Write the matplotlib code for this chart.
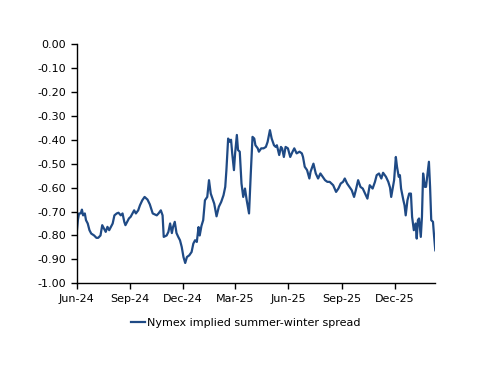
import pandas as pd
import numpy as np
import matplotlib
matplotlib.use("Agg")
import matplotlib.pyplot as plt
import matplotlib.dates as mdates

# days since 2024-06-01 and the spread ($/MMBtu)
days = [0, 2, 4, 7, 9, 11, 14, 16, 19, 22, 25, 30, 34, 37, 41, 44, 47, 50, 53, 56,
        59, 62, 65, 69, 72, 76, 79, 82, 84, 87, 90, 93, 96, 99, 102, 106, 109, 113, 117, 122,
        126, 131, 138, 141, 145, 148, 150, 155, 158, 161, 164, 166, 169, 172, 175, 178, 181, 184, 187, 190,
        194, 198, 201, 204, 207, 210, 212, 215, 218, 221, 225, 228, 231, 234, 237, 241, 245, 249, 253, 256,
        258, 261, 264, 266, 268, 271, 273, 276, 278, 281, 284, 287, 290, 293, 297, 300, 303, 306, 308, 312,
        314, 318, 322, 326, 329, 333, 336, 340, 343, 345, 349, 352, 354, 357, 360, 364, 368, 372, 375, 379,
        384, 388, 390, 393, 397, 401, 403, 408, 412, 416, 420, 424, 428, 432, 436, 442, 447, 451, 455, 459,
        462, 466, 470, 474, 478, 481, 485, 489, 493, 497, 501, 505, 510, 514, 517, 521, 525, 528, 533, 537,
        540, 542, 545, 547, 550, 552, 555, 557, 559, 563, 565, 567, 570, 573, 576, 578, 581, 584, 586, 588,
        590, 593, 595, 597, 600, 602, 604, 607, 609, 611, 614, 616, 618]
spread = [-0.79, -0.736, -0.708, -0.708, -0.692, -0.716, -0.708, -0.736, -0.75, -0.778,
          -0.792, -0.80, -0.81, -0.81, -0.80, -0.757, -0.771, -0.785, -0.764, -0.778,
          -0.764, -0.75, -0.716, -0.708, -0.705, -0.716, -0.708, -0.743, -0.757, -0.743,
          -0.729, -0.722, -0.708, -0.695, -0.708, -0.695, -0.674, -0.653, -0.639, -0.65,
          -0.67, -0.708, -0.716, -0.708, -0.695, -0.716, -0.806, -0.80, -0.785, -0.75,
          -0.79, -0.765, -0.743, -0.79, -0.806, -0.82, -0.848, -0.89, -0.915, -0.89,
          -0.883, -0.869, -0.834, -0.82, -0.827, -0.765, -0.80, -0.76, -0.736, -0.653,
          -0.639, -0.569, -0.625, -0.646, -0.667, -0.72, -0.68, -0.66, -0.632, -0.597,
          -0.527, -0.395, -0.409, -0.40, -0.457, -0.527, -0.457, -0.38, -0.443, -0.45,
          -0.583, -0.639, -0.604, -0.653, -0.708, -0.541, -0.388, -0.395, -0.423, -0.436,
          -0.45, -0.436, -0.436, -0.43, -0.409, -0.36, -0.395, -0.423, -0.43, -0.423,
          -0.464, -0.43, -0.436, -0.472, -0.43, -0.436, -0.472, -0.45, -0.436, -0.457,
          -0.45, -0.457, -0.472, -0.513, -0.527, -0.562, -0.534, -0.50, -0.541, -0.562,
          -0.541, -0.555, -0.569, -0.576, -0.576, -0.59, -0.618, -0.604, -0.583, -0.576,
          -0.562, -0.583, -0.597, -0.611, -0.639, -0.611, -0.569, -0.597, -0.604, -0.625,
          -0.646, -0.59, -0.604, -0.576, -0.548, -0.541, -0.562, -0.538, -0.555, -0.576,
          -0.60, -0.639, -0.597, -0.569, -0.472, -0.513, -0.555, -0.548, -0.604, -0.653,
          -0.674, -0.716, -0.653, -0.625, -0.625, -0.722, -0.778, -0.75, -0.813, -0.736,
          -0.729, -0.806, -0.722, -0.541, -0.597, -0.597, -0.555, -0.492, -0.597, -0.736,
          -0.743, -0.806, -0.862]

start = pd.Timestamp("2024-06-01")
dates = start + pd.to_timedelta(days, unit="D")

plt.rcParams["font.family"] = "DejaVu Sans"
plt.rcParams["font.size"] = 8

fig = plt.figure(figsize=(5, 3.86), dpi=100)
ax = fig.add_axes([0.1534, 0.266, 0.7172, 0.620])

ax.plot(dates, spread, color="#1f4a85", linewidth=1.6,
        label="Nymex implied summer-winter spread")

ax.set_ylim(-1.0, 0.0)
ax.set_yticks(np.round(np.arange(-1.0, 0.01, 0.1), 2))
ax.yaxis.set_major_formatter(plt.FuncFormatter(lambda v, p: f"{v:.2f}" if abs(v) > 1e-9 else "0.00"))
ax.set_xlim(start, start + pd.Timedelta(days=618))
ax.xaxis.set_major_locator(mdates.MonthLocator(bymonth=[3, 6, 9, 12]))
ax.xaxis.set_major_formatter(mdates.DateFormatter("%b-%y"))

for s in ["top", "right"]:
    ax.spines[s].set_visible(False)
ax.spines["left"].set_linewidth(1.0)
ax.spines["bottom"].set_linewidth(1.0)
ax.tick_params(direction="out", length=4, width=1, colors="black", labelsize=8)
ax.tick_params(axis="x", pad=4)

fig.legend(loc="center", bbox_to_anchor=(0.492, 0.163), frameon=False,
           handlelength=1.2, handletextpad=0.2, fontsize=8)

fig.savefig("out.png", dpi=100)
